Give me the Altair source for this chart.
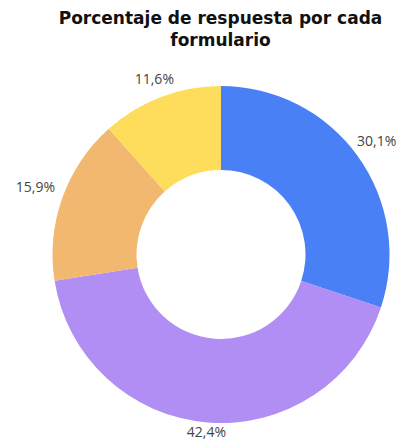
import altair as alt
import pandas as pd

labels = ["A", "B", "C", "D"]
values = [30.1, 42.4, 15.9, 11.6]
texts = ["30,1%", "42,4%", "15,9%", "11,6%"]
colors = ["#4a80f6", "#b08ef3", "#f3b86f", "#fedd5c"]

df = pd.DataFrame({"form": labels, "value": values, "text": texts, "order": [0, 1, 2, 3]})

cx, cy = 213, 186.5

base = alt.Chart(df).encode(
    theta=alt.Theta("value:Q", stack=True),
    order=alt.Order("order:Q"),
)

arcs = base.mark_arc(outerRadius=168.5, innerRadius=84.5, stroke=None).encode(
    x=alt.value(cx), y=alt.value(cy),
    color=alt.Color("form:N", scale=alt.Scale(domain=labels, range=colors), legend=None),
)

def label_layer(form, radius):
    cond = alt.FieldEqualPredicate(field="form", equal=form)
    return base.mark_text(radius=radius, fontSize=14, font="Open Sans", color="#444444").encode(
        text="text:N", x=alt.value(cx), y=alt.value(cy),
        opacity=alt.condition(cond, alt.value(1), alt.value(0)),
    )

label_radii = {"A": 192, "B": 179, "C": 197, "D": 187}
layers = [arcs] + [label_layer(f, r) for f, r in label_radii.items()]

chart = (
    alt.layer(*layers)
    .properties(
        width=390,
        height=372,
        padding={"left": 0, "top": 60, "right": 0, "bottom": 0},
        autosize=alt.AutoSizeParams(type="none"),
        title=alt.TitleParams(
            ["Porcentaje de respuesta por cada", "formulario"],
            font="DejaVu Sans",
            fontSize=17,
            fontWeight="bold",
            color="#111111",
            anchor="middle",
            lineHeight=22,
            offset=13,
            dx=17.5,
        ),
    )
    .configure_view(stroke=None)
)

chart.save("out.html", embed_options={"renderer": "svg", "actions": False})
